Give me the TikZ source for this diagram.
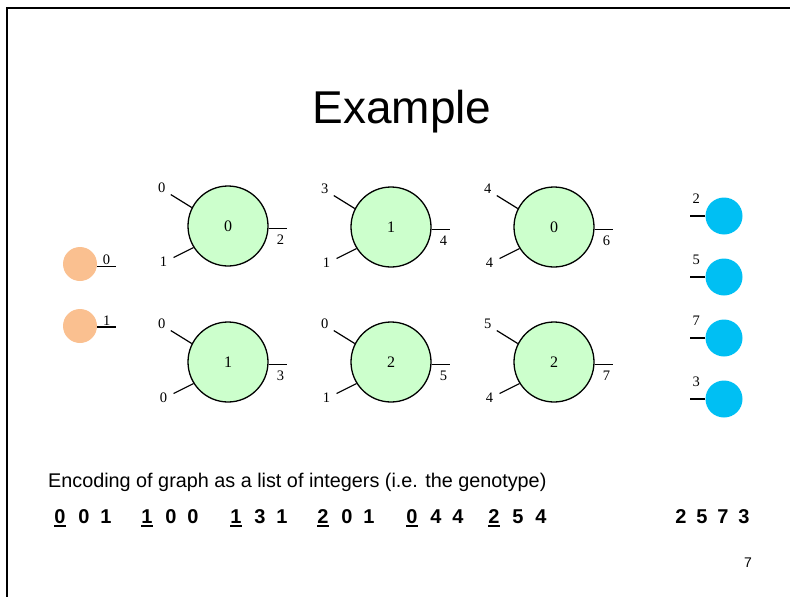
\documentclass[tikz,border=0pt]{standalone}
\usepackage{fontspec}
\setmainfont{Liberation Sans}
\newfontfamily\timesfont{Liberation Serif}
\definecolor{gatefill}{RGB}{204,255,204}
\definecolor{infill}{RGB}{250,192,144}
\definecolor{outfill}{RGB}{0,191,243}
\begin{document}
\begin{tikzpicture}[x=1pt,y=-1pt,
  gate/.style={circle,draw,line width=1.3pt,fill=gatefill,minimum size=80pt,inner sep=0pt,
    font=\timesfont\fontsize{16}{16}\selectfont},
  innode/.style={circle,fill=infill,minimum size=34pt,inner sep=0pt},
  outnode/.style={circle,fill=outfill,minimum size=37pt,inner sep=0pt},
  pin/.style={line width=1.2pt},
  lbl/.style={font=\timesfont\fontsize{14.5}{14.5}\selectfont,inner sep=1pt},
  code/.style={font=\bfseries\fontsize{20}{20}\selectfont,inner sep=0pt,anchor=base}]
  \useasboundingbox (0,0) rectangle (790,597);
  % slide frame
  \draw[line width=2.5pt] (7,597) -- (7,8) -- (790,8);
  \node[font=\fontsize{46}{50}\selectfont] (title) at (402,112) {Example};
  % inputs
  \node[innode] (i0) at (80,264) {};
  \draw[pin] (i0.-8) -- ++(19,0) node[lbl,midway,above] (i0-t) {0};
  \node[innode] (i1) at (80,326) {};
  \draw[pin] (i1.-3) -- ++(19,0) node[lbl,midway,above] (i1-t) {1};
  % gates
  \foreach \nm/\x/\y/\v/\a/\b/\o in {g1/228/226/0/0/1/2, g2/391/227/1/3/1/4,
      g3/554/227/0/4/4/6, g4/228/362/1/0/0/3, g5/391/362/2/0/1/5, g6/554/362/2/5/4/7}{
    \node[gate] (\nm) at (\x,\y) {\v};
    \draw[pin] (\nm.153) -- ++(-21,-13) coordinate (\nm-ua);
    \draw[pin] (\nm.212) -- ++(-20,10) coordinate (\nm-la);
    \draw[pin] (\nm.-3) -- ++(18,0) coordinate (\nm-oe);
    \node[lbl] (\nm-ta) at ([shift={(-9,-7)}]\nm-ua) {\a};
    \node[lbl] (\nm-tb) at ([shift={(-10,4)}]\nm-la) {\b};
    \node[lbl] (\nm-to) at ([shift={(-6,12)}]\nm-oe) {\o};
  }
  % outputs
  \foreach \nm/\y/\v in {o2/216/2, o5/277/5, o7/338/7, o3/399/3}{
    \node[outnode] (\nm) at (724,\y) {};
    \draw[pin] (\nm.west) -- ++(-15,0) coordinate (\nm-w);
    \node[lbl] (\nm-t) at ([shift={(-9,-17)}]\nm.west) {\v};
  }
  % genotype
  \node[anchor=base west,font=\fontsize{19.8}{24}\selectfont,inner sep=0pt] (enc) at (48,487)
    {Encoding of graph as a list of integers (i.e. the genotype)};
  \foreach \x/\d [count=\i] in {60/0,84/0,106/1, 147/1,171/0,193/0,
      236/1,260/3,282/1, 323/2,347/0,369/1, 412/0,436/4,458/4,
      494/2,518/5,541/4, 681/2,702/5,723/7,744/3}
    \node[code] (c\i) at (\x,523) {\d};
  \foreach \i in {1,4,7,10,13,16}
    \draw[line width=2pt] ([yshift=-3pt]c\i.base west) -- ([yshift=-3pt]c\i.base east);
  \node[font=\fontsize{14}{14}\selectfont] (pg) at (748,563) {7};
\end{tikzpicture}
\end{document}
